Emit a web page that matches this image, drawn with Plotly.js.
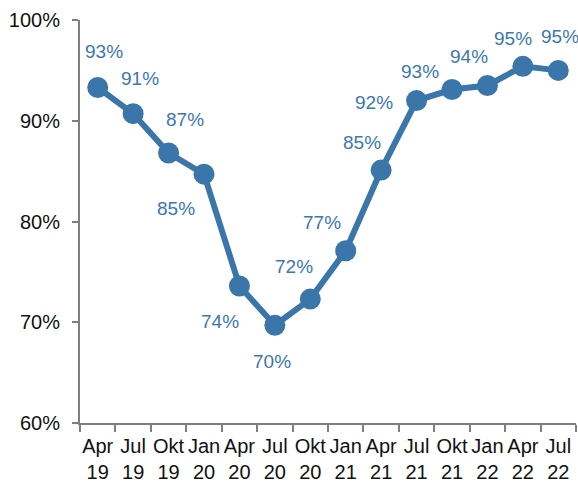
<!DOCTYPE html>
<html>
<head>
<meta charset="utf-8">
<script src="https://cdn.plot.ly/plotly-3.0.1.min.js"></script>
<style>
  body { margin: 0; background: #fff; }
  #chart { width: 578px; height: 482px; }
</style>
</head>
<body>
<div id="chart"></div>
<script>
// quarters and share (%)
var categories = ['Apr<br>19', 'Jul<br>19', 'Okt<br>19', 'Jan<br>20', 'Apr<br>20', 'Jul<br>20', 'Okt<br>20',
                  'Jan<br>21', 'Apr<br>21', 'Jul<br>21', 'Okt<br>21', 'Jan<br>22', 'Apr<br>22', 'Jul<br>22'];
var values = [93.3, 90.7, 86.8, 84.7, 73.6, 69.7, 72.3, 77.1, 85.1, 92.0, 93.1, 93.5, 95.4, 95.0];
var labels = ['93%', '91%', '87%', '85%', '74%', '70%', '72%', '77%', '85%', '92%', '93%', '94%', '95%', '95%'];

// where each label sits relative to its point (px)
var labelShiftX = [6, 7, 16, -28, -19, -3, -16, -24, -19, -43, -32, -18, -10, 2];
var labelShiftY = [36, 35, 33, -34, -36, -36, 33, 28, 28, -2, 18, 29, 28, 34];

var blue = '#3a76a9';

var trace = {
  x: categories,
  y: values,
  type: 'scatter',
  mode: 'lines+markers',
  line: {color: blue, width: 6},
  marker: {color: blue, size: 21},
  hoverinfo: 'none'
};

var annotations = values.map(function (v, i) {
  return {
    x: categories[i],
    y: v,
    text: labels[i],
    showarrow: false,
    xshift: labelShiftX[i],
    yshift: labelShiftY[i],
    font: {family: 'Liberation Sans, Arial, sans-serif', size: 19, color: '#3b78b0'}
  };
});

var layout = {
  width: 578,
  height: 482,
  margin: {l: 80, r: 2, t: 20, b: 59},
  plot_bgcolor: '#fff',
  paper_bgcolor: '#fff',
  showlegend: false,
  font: {family: 'Liberation Sans, Arial, sans-serif', size: 20, color: '#111'},
  xaxis: {
    type: 'category',
    range: [-0.5, 13.5],
    showline: true,
    linecolor: '#7f7f7f',
    linewidth: 2,
    ticks: 'outside',
    tickson: 'boundaries',
    ticklen: 7,
    tickwidth: 2,
    tickcolor: '#7f7f7f',
    showgrid: false,
    zeroline: false,
    tickangle: 0,
    ticklabelstandoff: 4,
    automargin: false
  },
  yaxis: {
    range: [60, 100],
    dtick: 10,
    ticksuffix: '%',
    showline: true,
    linecolor: '#7f7f7f',
    linewidth: 2,
    ticks: 'outside',
    ticklen: 6,
    tickwidth: 2,
    tickcolor: '#7f7f7f',
    showgrid: false,
    zeroline: false,
    ticklabelstandoff: 8,
    automargin: false
  },
  annotations: annotations
};

Plotly.newPlot('chart', [trace], layout, {staticPlot: true});
</script>
</body>
</html>
